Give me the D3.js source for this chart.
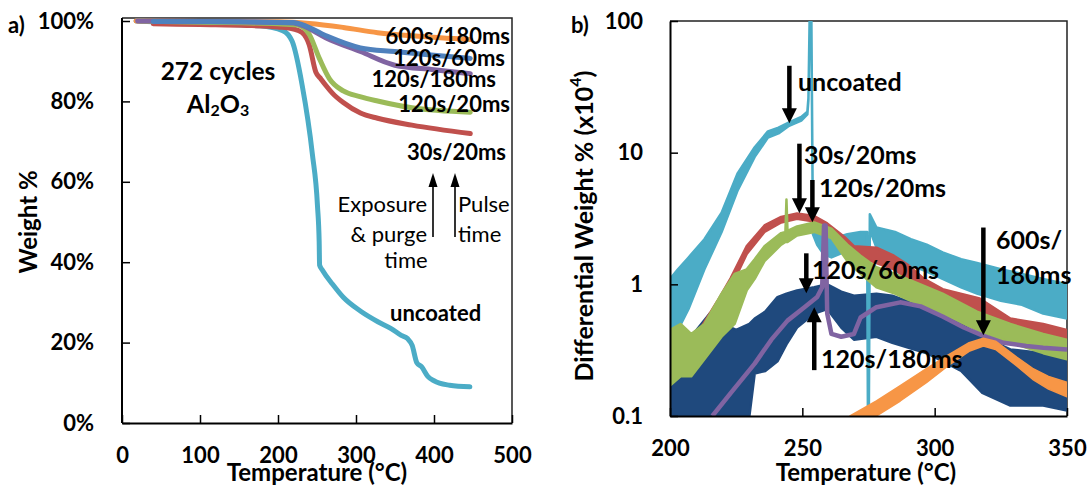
<!DOCTYPE html>
<html><head><meta charset="utf-8">
<script src="https://cdn.jsdelivr.net/npm/d3@7"></script>
<style>
body{margin:0;background:#fff;}
svg{display:block;font-family:Lato,"Open Sans",sans-serif;}
</style>
</head><body>
<svg id="c" width="1089" height="487"></svg>
<script>
// ---------- DATA: panel a) TGA weight (fraction) vs temperature (°C) ----------
const tUnc = [18, 60, 120, 177, 206, 218, 231, 244, 250.6, 252.8, 253.3, 257, 270, 284, 306, 328, 345, 358, 366, 372, 378, 384, 392, 400, 407, 420, 446];
const wUnc = [1.00, 0.996, 0.992, 0.988, 0.976, 0.950, 0.840, 0.670, 0.541, 0.45, 0.393, 0.380, 0.345, 0.312, 0.278, 0.252, 0.235, 0.218, 0.21, 0.193, 0.150, 0.14, 0.116, 0.105, 0.099, 0.094, 0.090];
const tRed = [40, 100, 160, 200, 220, 231, 240, 248.5, 255, 261.7, 270, 283.7, 305.7, 327.7, 371.7, 446.5];
const wRed = [0.993, 0.991, 0.989, 0.985, 0.980, 0.971, 0.941, 0.873, 0.856, 0.839, 0.82, 0.797, 0.771, 0.758, 0.741, 0.720];
const tGrn = [23, 100, 200, 225, 240, 253, 266, 283.7, 305, 327.7, 371.7, 446.5];
const wGrn = [1.0, 0.997, 0.993, 0.99, 0.967, 0.907, 0.856, 0.826, 0.812, 0.801, 0.784, 0.773];
const tBlu = [40, 150, 220, 231, 261.7, 305.7, 349.7, 400, 446.5];
const wBlu = [0.999, 0.998, 0.996, 0.991, 0.963, 0.933, 0.924, 0.915, 0.907];
const tPur = [20, 150, 220, 231, 261.7, 305.7, 349.7, 400, 446.5];
const wPur = [1.0, 0.998, 0.995, 0.989, 0.958, 0.924, 0.890, 0.879, 0.869];
const tOra = [18, 100, 200, 240, 283.7, 327.7, 380, 446.5];
const wOra = [1.0, 0.999, 0.998, 0.994, 0.984, 0.971, 0.962, 0.954];

const xTicksA = [0, 100, 200, 300, 400, 500];
const yTicksA = [0, 0.2, 0.4, 0.6, 0.8, 1.0];

// ---------- DATA: panel b) differential weight (x10^4), noisy traces as low/high envelopes ----------
const tCyanB  = [200, 203, 207, 213, 219.5, 225.6, 232, 237, 241, 245, 249.6, 251.9, 252.3, 252.8, 253.4, 254, 255.6, 258, 261, 267, 272, 274.5, 274.8, 275.1, 275.5, 278, 285, 291, 297, 303, 310, 316, 325, 333, 341, 350];
const loCyanB = [0.35, 0.45, 0.65, 1.3, 2.5, 5.2, 9.3, 13, 14, 16, 17.5, 19.5, 25, 99, 99, 2.4, 2.0, 1.7, 1.6, 1.8, 1.9, 1.9, 0.08, 0.08, 2.6, 1.9, 1.6, 1.4, 1.25, 1.1, 0.95, 0.85, 0.75, 0.7, 0.6, 0.55];
const hiCyanB = [1.1, 1.3, 1.6, 2.2, 3.5, 7.0, 11.0, 14.5, 15.5, 17, 18.7, 20.5, 26, 120, 120, 2.8, 2.4, 2.3, 2.2, 2.4, 2.5, 2.5, 0.09, 0.09, 3.4, 2.7, 2.5, 2.2, 2.0, 1.75, 1.55, 1.45, 1.3, 1.2, 1.1, 1.0];

const tRedB  = [205, 212, 218, 223, 229, 235.7, 242, 248, 254.5, 259.4, 265.8, 269.5, 278, 284.6, 290, 296, 303, 317, 328.6, 341, 350];
const loRedB = [0.22, 0.38, 0.62, 0.95, 1.7, 2.5, 2.95, 3.15, 3.0, 2.6, 2.0, 1.7, 1.45, 1.3, 1.1, 0.88, 0.75, 0.6, 0.43, 0.4, 0.36];
const hiRedB = [0.3, 0.48, 0.75, 1.12, 1.95, 2.8, 3.25, 3.45, 3.3, 2.9, 2.3, 1.95, 1.9, 1.65, 1.4, 1.1, 0.92, 0.78, 0.55, 0.5, 0.45];

const tGrnB  = [200, 204, 208, 213, 219.5, 224.4, 229, 232, 235.7, 242, 243.6, 244, 244.4, 248, 254.5, 261, 267, 272, 278, 285, 291, 303, 316, 328.6, 341, 350];
const loGrnB = [0.17, 0.2, 0.2, 0.27, 0.4, 0.5, 0.9, 1.1, 1.5, 2.0, 2.1, 2.1, 2.1, 2.35, 2.5, 2.25, 1.5, 1.2, 0.95, 0.85, 0.75, 0.6, 0.45, 0.36, 0.3, 0.27];
const hiGrnB = [0.45, 0.5, 0.42, 0.5, 0.85, 1.2, 1.3, 1.55, 1.95, 2.45, 2.5, 4.4, 2.55, 2.75, 2.95, 2.65, 2.0, 1.65, 1.35, 1.2, 1.07, 0.85, 0.62, 0.5, 0.42, 0.38];

const tNavyB  = [200, 205, 210, 215, 220, 225, 230, 232, 236, 240.6, 244, 248, 254.5, 259.4, 264.7, 269.5, 278, 284, 297, 310, 318, 328.6, 341, 350];
const loNavyB = [0.1, 0.1, 0.1, 0.1, 0.1, 0.1, 0.1, 0.21, 0.22, 0.26, 0.35, 0.47, 0.6, 0.65, 0.47, 0.38, 0.4, 0.36, 0.3, 0.22, 0.15, 0.12, 0.12, 0.11];
const hiNavyB = [0.3, 0.35, 0.45, 0.6, 0.5, 0.45, 0.5, 0.55, 0.62, 0.8, 0.85, 0.9, 0.95, 1.0, 0.88, 0.82, 0.85, 0.82, 0.66, 0.5, 0.4, 0.32, 0.3, 0.28];

const tPurB = [216, 223, 232, 238.3, 244.4, 250.8, 255.6, 257.5, 258.2, 258.8, 259.4, 261, 264.7, 269.5, 272, 278, 287, 294.7, 303, 311, 318, 326, 334.6, 341, 350];
const vPurB = [0.1, 0.15, 0.25, 0.38, 0.53, 0.67, 0.8, 0.95, 2.8, 2.8, 0.6, 0.42, 0.40, 0.42, 0.56, 0.67, 0.73, 0.68, 0.57, 0.47, 0.41, 0.36, 0.34, 0.33, 0.32];

const tOraB  = [268, 278, 287, 297, 305, 313, 318.4, 323, 331, 337, 343, 350];
const loOraB = [0.09, 0.1, 0.13, 0.18, 0.24, 0.31, 0.34, 0.32, 0.24, 0.19, 0.16, 0.14];
const hiOraB = [0.1, 0.13, 0.17, 0.23, 0.29, 0.36, 0.39, 0.37, 0.28, 0.23, 0.2, 0.18];

const xTicksB = [200, 250, 300, 350];
const yTicksB = [0.1, 1, 10, 100];

// annotation arrows in panel b (T, tail value, tip value)
const annB = [
  {label:"uncoated", T:245.1, tail:45.7, tip:16.7},
  {label:"30s/20ms", T:248.9, tail:11.7, tip:3.46},
  {label:"120s/20ms", T:253.8, tail:6.2, tip:2.96},
  {label:"120s/60ms", T:251.5, tail:1.72, tip:0.855},
  {label:"120s/180ms", T:254.5, tail:0.223, tip:0.67},
  {label:"600s/180ms", T:318.4, tail:2.7, tip:0.41}
];

const C = {cyan:"#4BACC6", red:"#C0504D", green:"#9BBB59", blue:"#4F81BD", purple:"#8064A2", orange:"#F79646", navy:"#1F497D"};

// ---------- DRAW ----------
const svg = d3.select("#c");
const xA = d3.scaleLinear([0,500],[122,512]);
const yA = d3.scaleLinear([0,1],[423,21]);
const xB = d3.scaleLinear([200,350],[670,1067]);
const yB = d3.scaleLog([0.1,100],[416,21]);

function styleAxis(g){
  g.select(".domain").attr("stroke","#000").attr("stroke-width",2);
  g.selectAll(".tick line").attr("stroke","#000").attr("stroke-width",1.5);
  g.selectAll("text").attr("font-size",22).attr("font-weight",700).attr("fill","#000").attr("font-family","Lato");
}

svg.append("path").attr("d",`M${xA(0)},18H${xA(500)}V${yA(0)}`).attr("fill","none").attr("stroke","#222").attr("stroke-width",1.5);
svg.append("path").attr("d",`M${xB(200)},${yB(100)}H${xB(350)}V${yB(0.1)}`).attr("fill","none").attr("stroke","#222").attr("stroke-width",1.5);

const lineA = d3.line().x(d=>xA(d[0])).y(d=>yA(d[1])).curve(d3.curveMonotoneX);
const seriesA = [
  [tUnc,wUnc,C.cyan],[tOra,wOra,C.orange],[tRed,wRed,C.red],[tGrn,wGrn,C.green],[tPur,wPur,C.purple],[tBlu,wBlu,C.blue]
];
seriesA.forEach(([t,w,c])=>{
  svg.append("path").datum(t.map((v,i)=>[v,w[i]])).attr("d",lineA)
    .attr("fill","none").attr("stroke",c).attr("stroke-width",5).attr("stroke-linecap","round").attr("stroke-linejoin","round");
});

const gxA = svg.append("g").attr("transform",`translate(0,${yA(0)})`)
  .call(d3.axisBottom(xA).tickValues(xTicksA).tickSize(-8).tickSizeOuter(0).tickPadding(24).tickFormat(d3.format("d")));
styleAxis(gxA);
const gyA = svg.append("g").attr("transform",`translate(${xA(0)},0)`)
  .call(d3.axisLeft(yA).tickValues(yTicksA).tickSize(-8).tickSizeOuter(0).tickPadding(28).tickFormat(d3.format(".0%")));
styleAxis(gyA);
gyA.select(".domain").attr("d",`M0,18V${yA(0)}`);

svg.append("clipPath").attr("id","clipB").append("rect")
  .attr("x",xB(200)).attr("y",yB(100)).attr("width",xB(350)-xB(200)).attr("height",yB(0.1)-yB(100));
const gB = svg.append("g").attr("clip-path","url(#clipB)");
const areaB = d3.area().x(d=>xB(d[0])).y0(d=>yB(d[1])).y1(d=>yB(d[2]));
const bands = [
  [tNavyB,loNavyB,hiNavyB,C.navy],
  [tCyanB,loCyanB,hiCyanB,C.cyan],
  [tRedB,loRedB,hiRedB,C.red],
  [tGrnB,loGrnB,hiGrnB,C.green]
];
bands.forEach(([t,lo,hi,c])=>{
  gB.append("path").datum(t.map((v,i)=>[v,lo[i],hi[i]])).attr("d",areaB)
    .attr("fill",c).attr("stroke",c).attr("stroke-width",2.5).attr("stroke-linejoin","round");
});
const lineB = d3.line().x(d=>xB(d[0])).y(d=>yB(d[1]));
gB.append("path").datum(tPurB.map((v,i)=>[v,vPurB[i]])).attr("d",lineB)
  .attr("fill","none").attr("stroke",C.purple).attr("stroke-width",4.5).attr("stroke-linejoin","round");
gB.append("path").datum(tOraB.map((v,i)=>[v,loOraB[i],hiOraB[i]])).attr("d",areaB)
  .attr("fill",C.orange).attr("stroke",C.orange).attr("stroke-width",1.5).attr("stroke-linejoin","round");

const gxB = svg.append("g").attr("transform",`translate(0,${yB(0.1)})`)
  .call(d3.axisBottom(xB).tickValues(xTicksB).tickSize(-8).tickSizeOuter(0).tickPadding(24).tickFormat(d3.format("d")));
styleAxis(gxB);
const gyB = svg.append("g").attr("transform",`translate(${xB(200)},0)`)
  .call(d3.axisLeft(yB).tickValues(yTicksB).tickSize(-8).tickSizeOuter(0).tickPadding(27).tickFormat(d=>String(d)));
styleAxis(gyB);

function txt(x,y,s,opt={}){
  return svg.append("text").attr("x",x).attr("y",y).text(s)
    .attr("font-size",opt.size||22).attr("font-weight",opt.weight||700)
    .attr("text-anchor",opt.anchor||"start").attr("dominant-baseline","central").attr("fill","#000");
}
txt(8,24,"a)");
txt(571,24,"b)");
txt(317,471,"Temperature (°C)",{anchor:"middle",size:24});
txt(866,471,"Temperature (°C)",{anchor:"middle",size:24});
svg.append("text").attr("transform","translate(27,222) rotate(-90)").attr("text-anchor","middle")
  .attr("dominant-baseline","central").attr("font-size",24).attr("font-weight",700).text("Weight %");
const yt = svg.append("text").attr("transform","translate(583,226) rotate(-90)").attr("text-anchor","middle")
  .attr("dominant-baseline","central").attr("font-size",25).attr("font-weight",700);
yt.append("tspan").text("Differential Weight % (x10");
yt.append("tspan").text("4").attr("font-size",16).attr("dy",-9);
yt.append("tspan").text(")").attr("dy",9);

txt(218,70,"272 cycles",{anchor:"middle",size:24.5});
const al = svg.append("text").attr("x",218).attr("y",103).attr("text-anchor","middle").attr("dominant-baseline","central")
  .attr("font-size",25).attr("font-weight",700);
al.append("tspan").text("Al");
al.append("tspan").text("2").attr("font-size",16).attr("dy",6);
al.append("tspan").text("O").attr("dy",-6);
al.append("tspan").text("3").attr("font-size",16).attr("dy",6);

txt(510,35,"600s/180ms",{anchor:"end"});
txt(505,57,"120s/60ms",{anchor:"end"});
txt(496,78,"120s/180ms",{anchor:"end"});
txt(510,103,"120s/20ms",{anchor:"end"});
txt(506,151,"30s/20ms",{anchor:"end"});
txt(427,203,"Exposure",{anchor:"end",weight:400});
txt(427,233,"& purge",{anchor:"end",weight:400});
txt(406,259,"time",{anchor:"middle",weight:400});
txt(458,203,"Pulse",{weight:400});
txt(458,233,"time",{weight:400});
txt(390,312,"uncoated");

function arrow(x,yTail,yTip,lw,hw,hl){
  const dir = yTip>yTail?1:-1;
  svg.append("line").attr("x1",x).attr("x2",x).attr("y1",yTail).attr("y2",yTip-dir*hl*0.8)
    .attr("stroke","#000").attr("stroke-width",lw);
  svg.append("path").attr("d",`M${x-hw/2},${yTip-dir*hl}L${x+hw/2},${yTip-dir*hl}L${x},${yTip}Z`).attr("fill","#000");
}
arrow(433,237,173,1.6,9,14);
arrow(455,237,173,1.6,9,14);

annB.forEach(a=>{ arrow(xB(a.T),yB(a.tail),yB(a.tip),4.5,15,15); });
txt(798,81,"uncoated",{size:25});
txt(804,154,"30s/20ms",{size:25});
txt(819,187,"120s/20ms",{size:25});
txt(812,269,"120s/60ms",{size:25});
txt(821,358,"120s/180ms",{size:25});
txt(996,239,"600s/",{size:25});
txt(996,274,"180ms",{size:25});
</script>
</body></html>
